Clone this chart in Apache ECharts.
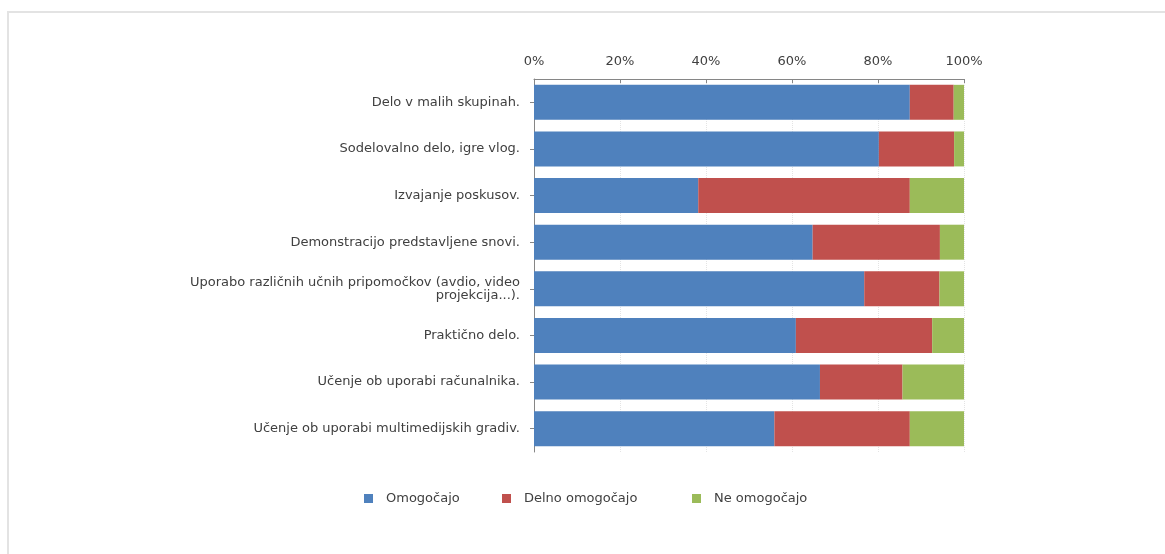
<!DOCTYPE html>
<html>
<head>
<meta charset="utf-8">
<script src="https://cdn.jsdelivr.net/npm/echarts@6/dist/echarts.min.js"></script>
<style>
  html, body { margin: 0; padding: 0; background: #fff; }
  #chart { width: 1165px; height: 554px; }
</style>
</head>
<body>
<div id="chart"></div>
<script>
// categories, top to bottom as in the picture
const categories = [
  'Delo v malih skupinah.',
  'Sodelovalno delo, igre vlog.',
  'Izvajanje poskusov.',
  'Demonstracijo predstavljene snovi.',
  'Uporabo različnih učnih pripomočkov (avdio, video\nprojekcija...).',
  'Praktično delo.',
  'Učenje ob uporabi računalnika.',
  'Učenje ob uporabi multimedijskih gradiv.'
];
const omogocajo = [87.4, 80.2, 38.2, 64.8, 76.8, 60.9, 66.5, 55.9];
const delno = [10.2, 17.5, 49.2, 29.6, 17.5, 31.7, 19.2, 31.5];
const ne = [2.4, 2.3, 12.6, 5.6, 5.7, 7.4, 14.3, 12.6];
const seriesNames = ['Omogočajo', 'Delno omogočajo', 'Ne omogočajo'];
const colors = ['#4F81BD', '#C0504D', '#9BBB59'];

var myChart = echarts.init(document.getElementById('chart'));

const font = '"DejaVu Sans", Verdana, sans-serif';

// one legend per item so each sits where the original put it
const legendLeft = [364, 502, 692];
const legends = seriesNames.map((name, i) => ({
  top: 492,
  left: legendLeft[i],
  padding: 0,
  itemWidth: 9,
  itemHeight: 9,
  icon: 'rect',
  textStyle: { fontSize: 13, color: '#404040', fontFamily: font, padding: [0, 0, 0, 8] },
  data: [name]
}));

const option = {
  animation: false,
  color: colors,
  textStyle: { fontFamily: font },
  graphic: [{
    type: 'rect',
    shape: { x: 8, y: 12, width: 1300, height: 700 },
    style: { fill: 'none', stroke: '#e3e3e3', lineWidth: 2 }
  }],
  grid: { left: 534, right: 201, top: 79, bottom: 102 },
  legend: legends,
  xAxis: {
    type: 'value',
    position: 'top',
    min: 0,
    max: 100,
    interval: 20,
    axisLine: { show: true, lineStyle: { color: '#868686', width: 1 } },
    axisTick: { show: true, inside: true, length: 4, lineStyle: { color: '#868686' } },
    axisLabel: {
      formatter: '{value}%',
      color: '#404040',
      fontSize: 13,
      margin: 11,
      fontFamily: font
    },
    splitLine: { show: true, lineStyle: { color: '#e4e4e4', type: 'dotted' } }
  },
  yAxis: {
    type: 'category',
    inverse: true,
    data: categories,
    axisLine: { show: true, lineStyle: { color: '#868686', width: 1 } },
    axisTick: { show: true, alignWithLabel: true, length: 4, lineStyle: { color: '#868686' } },
    axisLabel: {
      color: '#404040',
      fontSize: 13,
      margin: 14,
      align: 'right',
      lineHeight: 13,
      fontFamily: font
    }
  },
  series: [
    { name: seriesNames[0], type: 'bar', stack: 'all', data: omogocajo, barCategoryGap: '25%' },
    { name: seriesNames[1], type: 'bar', stack: 'all', data: delno, barCategoryGap: '25%' },
    { name: seriesNames[2], type: 'bar', stack: 'all', data: ne, barCategoryGap: '25%' }
  ]
};

myChart.setOption(option);
</script>
</body>
</html>
